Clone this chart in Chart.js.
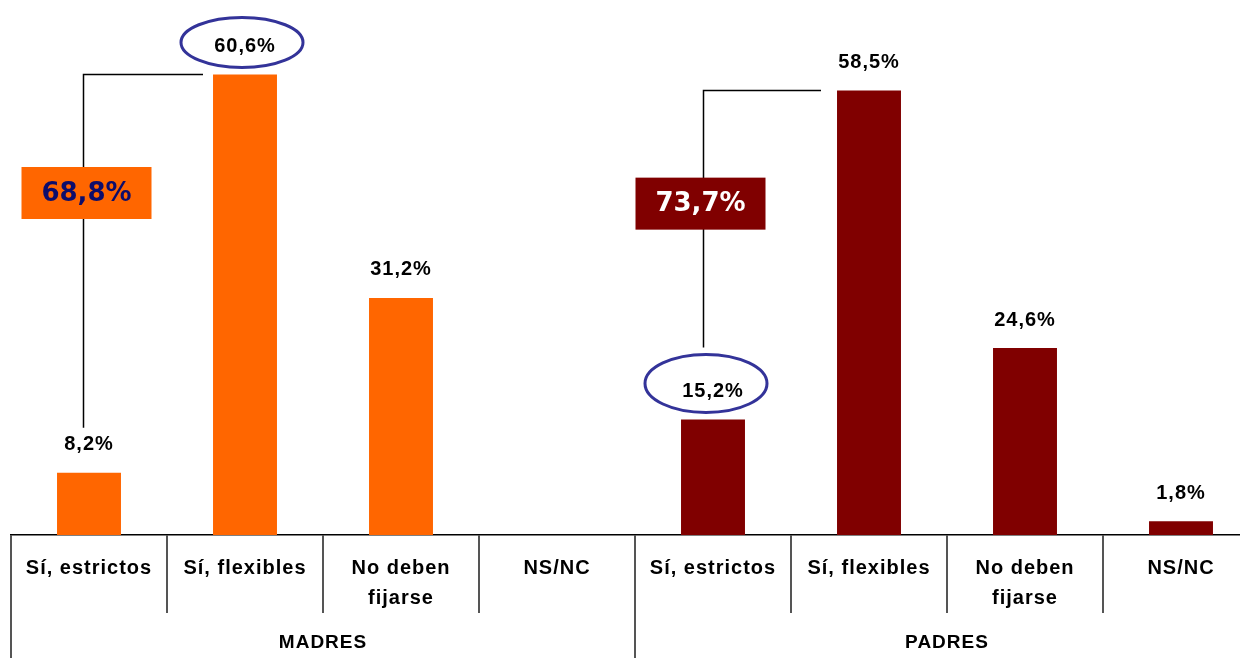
<!DOCTYPE html>
<html>
<head>
<meta charset="utf-8">
<script src="https://cdn.jsdelivr.net/npm/chart.js@4/dist/chart.umd.min.js"></script>
<style>
  html, body { margin: 0; padding: 0; background: #fff; overflow: hidden; }
  #wrap { width: 1262px; height: 658px; }
</style>
</head>
<body>
<div id="wrap"><canvas id="chart" width="1262" height="658"></canvas></div>
<script>
// ─── Data ──────────────────────────────────────────────────────

const categories = [
  ['Sí, estrictos'], ['Sí, flexibles'], ['No deben', 'fijarse'], ['NS/NC'],
  ['Sí, estrictos'], ['Sí, flexibles'], ['No deben', 'fijarse'], ['NS/NC'],
];
const groups = ['MADRES', 'PADRES'];
const madres = [8.2, 60.6, 31.2, null];
const padres = [15.2, 58.5, 24.6, 1.8];
const totalSi = ['68,8%', '73,7%'];   // Sí, estrictos + Sí, flexibles
const circled = [1, 4];               // labels with an ellipse

const COLORS = { madres: '#FF6600', padres: '#800000' };
const FONT = '"Liberation Sans", Arial, sans-serif';

const values = madres.concat(padres);
const barColors = madres.map(() => COLORS.madres).concat(padres.map(() => COLORS.padres));

const fmt = v => v.toFixed(1).replace('.', ',') + '%';

// ─── Plugins ───────────────────────────────────────────────────

const spacing = {
  id: 'spacing',
  beforeDraw(chart) { chart.ctx.letterSpacing = '1px'; },
};

const dividers = {
  id: 'dividers',
  afterDraw(chart) {
    const { ctx, scales: { x } } = chart;
    const n = categories.length;
    const step = (x.right - x.left) / n;
    const top = x.top;
    ctx.save();
    ctx.strokeStyle = '#555';
    ctx.lineWidth = 2;
    for (let i = 0; i <= n; i++) {
      const px = Math.round(x.left + i * step);
      const bottom = (i % 4 === 0) ? chart.height : top + 78;
      ctx.beginPath();
      ctx.moveTo(px, top);
      ctx.lineTo(px, bottom);
      ctx.stroke();
    }
    // group labels
    ctx.fillStyle = '#000';
    ctx.font = 'bold 19px ' + FONT;
    ctx.textAlign = 'center';
    ctx.textBaseline = 'middle';
    groups.forEach((g, gi) => {
      const cx = x.left + (gi * 4 + 2) * step;
      ctx.fillText(g, cx, top + 108);
    });
    ctx.restore();
  },
};

// per-group tweaks for the hand-drawn callouts
const ELLIPSE = [{ dx: -3, dy: -32, rx: 61, ry: 25 }, { dx: -7, dy: -36, rx: 61, ry: 29 }];
const BRACKET = [{ lineDx: -6, gap: 10, boxDx: 3, boxY: 45 }, { lineDx: -10, gap: 16, boxDx: -3, boxY: 43.6 }];

const annotations = {
  id: 'annotations',
  afterDatasetsDraw(chart) {
    const { ctx, scales: { y } } = chart;
    const bars = chart.getDatasetMeta(0).data;
    ctx.save();

    // value labels
    ctx.fillStyle = '#000';
    ctx.font = 'bold 20px ' + FONT;
    ctx.textAlign = 'center';
    ctx.textBaseline = 'middle';
    values.forEach((v, i) => {
      if (v == null) return;
      const b = bars[i];
      ctx.fillText(fmt(v), b.x, b.y - 28);
    });

    // ellipses round highlighted labels
    ctx.strokeStyle = '#333399';
    ctx.lineWidth = 3;
    circled.forEach((i, k) => {
      const b = bars[i];
      const e = ELLIPSE[k];
      ctx.beginPath();
      ctx.ellipse(b.x + e.dx, b.y + e.dy, e.rx, e.ry, 0, 0, Math.PI * 2);
      ctx.stroke();
    });

    // brackets + total boxes
    [0, 1].forEach(gi => {
      const cfg = BRACKET[gi];
      const b0 = bars[gi * 4];
      const b1 = bars[gi * 4 + 1];
      const lx = Math.round(b0.x + cfg.lineDx) + 0.5;
      const hy = Math.round(b1.y) + 0.5;
      const endY = circled.includes(gi * 4) ? b0.y - 72 : b0.y - 45;
      ctx.strokeStyle = '#000';
      ctx.lineWidth = 1.5;
      ctx.beginPath();
      ctx.moveTo(b1.x - b1.width / 2 - cfg.gap, hy);
      ctx.lineTo(lx, hy);
      ctx.lineTo(lx, endY);
      ctx.stroke();

      const cy = y.getPixelForValue(cfg.boxY);
      const cx = lx + cfg.boxDx;
      ctx.fillStyle = gi === 0 ? COLORS.madres : COLORS.padres;
      ctx.fillRect(cx - 65, cy - 26, 130, 52);
      ctx.fillStyle = gi === 0 ? '#0D0D6B' : '#FFFFFF';
      ctx.letterSpacing = '0px';
      ctx.font = 'bold 26px "DejaVu Sans", Verdana, sans-serif';
      ctx.fillText(totalSi[gi], cx, cy + 1);
    });
    ctx.restore();
  },
};

// ─── Chart ─────────────────────────────────────────────────────

new Chart(document.getElementById('chart'), {
  type: 'bar',
  data: {
    labels: categories,
    datasets: [{
      data: values,
      backgroundColor: barColors,
      barPercentage: 0.41,
      categoryPercentage: 1,
    }],
  },
  options: {
    responsive: false,
    animation: false,
    layout: { padding: { left: 11, right: 3, top: 3, bottom: 0 } },
    plugins: { legend: { display: false }, tooltip: { enabled: false } },
    scales: {
      y: { display: false, min: 0, max: 70 },
      x: {
        afterFit: s => { s.height = 123; },
        border: { color: '#000', width: 1.5 },
        grid: { display: false, drawTicks: false },
        ticks: {
          color: '#000',
          padding: 18,
          maxRotation: 0,
          autoSkip: false,
          font: { family: FONT, size: 20, weight: 'bold', lineHeight: 1.5 },
        },
      },
    },
  },
  plugins: [spacing, dividers, annotations],
});
</script>
</body>
</html>
